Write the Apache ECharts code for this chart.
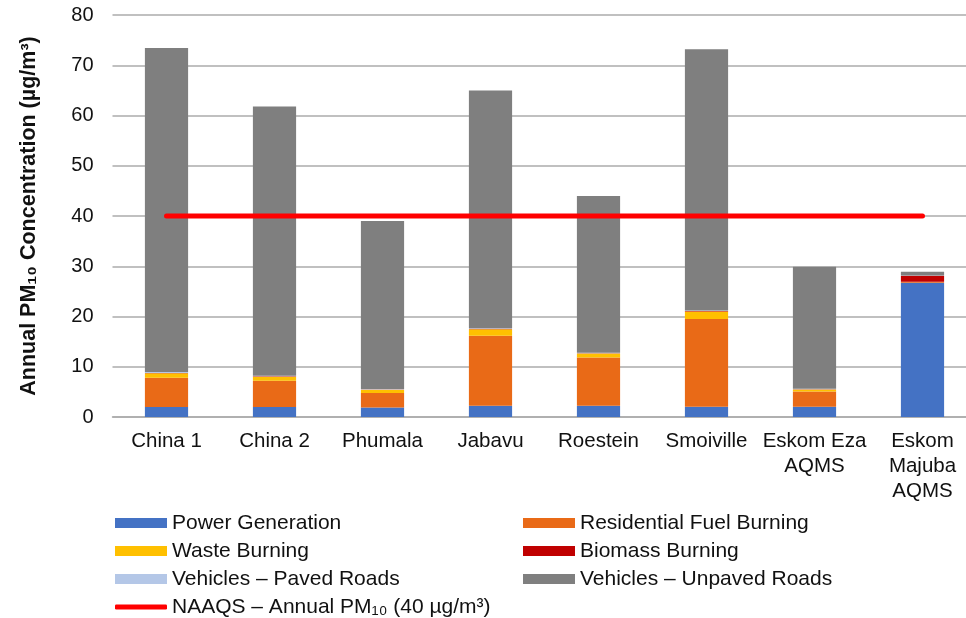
<!DOCTYPE html>
<html>
<head>
<meta charset="utf-8">
<script src="https://cdn.jsdelivr.net/npm/echarts@6/dist/echarts.min.js"></script>
<style>
html,body{margin:0;padding:0;background:#fff;overflow:hidden;}
#chart{width:966px;height:618px;}
</style>
</head>
<body>
<div id="chart"></div>
<script>
// sites along the x axis
var sites = ['China 1','China 2','Phumala','Jabavu','Roestein','Smoiville','Eskom Eza\nAQMS','Eskom\nMajuba\nAQMS'];
// source contributions, µg/m³
var power_gen   = [2.0, 2.0, 1.9, 2.25, 2.25, 2.05, 2.05, 26.7];
var residential = [5.8, 5.2, 2.9, 13.9, 9.6, 17.45, 3.0, 0.2];
var waste       = [0.9, 0.8, 0.6, 1.3, 0.8, 1.5, 0.4, 0];
var biomass     = [0.05, 0.1, 0.05, 0.1, 0.05, 0.1, 0.05, 1.2];
var paved       = [0.2, 0.1, 0.1, 0.1, 0.1, 0.1, 0.1, 0.05];
var unpaved     = [64.5, 53.6, 33.45, 47.35, 31.2, 52.0, 24.3, 0.75];
var naaqs       = [40, 40, 40, 40, 40, 40, 40, 40];
var y_ticks     = [0, 10, 20, 30, 40, 50, 60, 70, 80];

var font = 'Liberation Sans, Arial, sans-serif';

function bar(name, data, color){
    return {
        name: name,
        type: 'bar',
        stack: 'src',
        barWidth: '40%',
        itemStyle: {color: color},
        data: data
    };
}

var chart = echarts.init(document.getElementById('chart'), null, {renderer: 'canvas'});

var legend_text = {fontFamily: font, fontSize: 21, color: '#111', lineHeight: 22};

var option = {
    animation: false,
    textStyle: {fontFamily: font},
    // plot area runs a little past the right edge, as in the original
    grid: {left: 112.5, right: -10.5, top: 15, bottom: 201, outerBoundsMode: 'none', containLabel: false},
    xAxis: {
        type: 'category',
        data: sites,
        axisTick: {show: false},
        axisLine: {lineStyle: {color: '#ABABAB', width: 1.5}},
        axisLabel: {color: '#111', fontSize: 20.5, fontFamily: font, margin: 12, lineHeight: 25, interval: 0}
    },
    yAxis: {
        type: 'value',
        min: y_ticks[0],
        max: y_ticks[y_ticks.length - 1],
        interval: 10,
        name: 'Annual PM₁₀ Concentration (µg/m³)',
        nameLocation: 'middle',
        nameGap: 72,
        nameTextStyle: {fontWeight: 'bold', fontSize: 21.5, color: '#111', fontFamily: font},
        axisLine: {show: false},
        axisTick: {show: false},
        axisLabel: {color: '#111', fontSize: 20, fontFamily: font, margin: 19},
        splitLine: {lineStyle: {color: '#ABABAB', width: 1.5}}
    },
    legend: [{
        orient: 'vertical',
        left: 110, top: 507,
        itemWidth: 52, itemHeight: 10, itemGap: 6,
        icon: 'rect',
        textStyle: legend_text,
        data: ['Power Generation', 'Waste Burning', 'Vehicles – Paved Roads']
    }, {
        orient: 'vertical',
        left: 518, top: 507,
        itemWidth: 52, itemHeight: 10, itemGap: 6,
        icon: 'rect',
        textStyle: legend_text,
        data: ['Residential Fuel Burning', 'Biomass Burning', 'Vehicles – Unpaved Roads']
    }, {
        orient: 'vertical',
        left: 110, top: 591,
        itemWidth: 52, itemHeight: 5,
        icon: 'roundRect',
        textStyle: legend_text,
        data: ['NAAQS – Annual PM₁₀ (40 µg/m³)']
    }],
    series: [
        bar('Power Generation', power_gen, '#4472C4'),
        bar('Residential Fuel Burning', residential, '#E96A17'),
        bar('Waste Burning', waste, '#FFC000'),
        bar('Biomass Burning', biomass, '#C00000'),
        bar('Vehicles – Paved Roads', paved, '#B4C7E7'),
        bar('Vehicles – Unpaved Roads', unpaved, '#7F7F7F'),
        {
            name: 'NAAQS – Annual PM₁₀ (40 µg/m³)',
            type: 'line',
            symbol: 'none',
            z: 5,
            itemStyle: {color: '#FF0000'},
            lineStyle: {color: '#FF0000', width: 5, cap: 'round'},
            data: naaqs
        }
    ]
};
chart.setOption(option);
</script>
</body>
</html>
